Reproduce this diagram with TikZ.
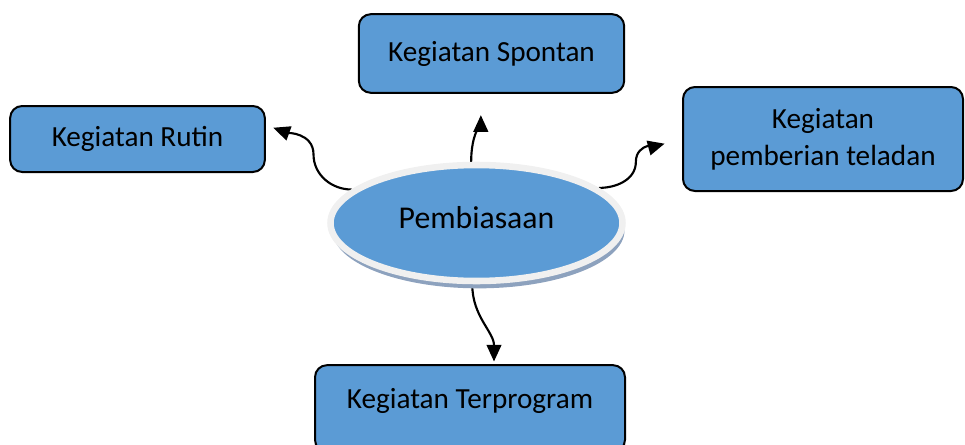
\documentclass[tikz,border=0pt]{standalone}
\usepackage{fontspec}
\setmainfont{Carlito}
\usetikzlibrary{shapes.geometric,shadows,arrows.meta}
\definecolor{boxblue}{RGB}{91,155,213}
\definecolor{ringgrey}{RGB}{240,240,240}
\definecolor{shadowblue}{RGB}{141,162,190}
\pgfdeclarelayer{background}
\pgfsetlayers{background,main}
\tikzset{
  kegiatan/.style={draw=black, line width=1.5pt, fill=boxblue, rounded corners=9pt,
    align=center, font=\fontsize{21.9}{27.5}\selectfont},
  pusat/.style={ellipse, fill=boxblue, draw=ringgrey, line width=4.9pt,
    minimum width=219pt, minimum height=87pt, font=\fontsize{23.8}{28}\selectfont,
    drop shadow={shadow xshift=1.5pt, shadow yshift=-5.5pt, fill=shadowblue, opacity=1}},
  panah/.style={-{Triangle[length=12.5pt,width=11pt]}, line width=1.6pt}
}

\begin{document}
\begin{tikzpicture}[x=0.75pt,y=0.75pt]
    \useasboundingbox (0,0) rectangle (965,444);
    \clip (0,0) rectangle (965,444);
    % centre
    \node[pusat] (pemb) at (476.5,221) {\raisebox{4pt}[\height][\depth]{Pembiasaan}};
    % activities
    \node[kegiatan, minimum width=191pt, minimum height=49.5pt] (rutin) at (137.5,305) {Kegiatan Rutin};
    \node[kegiatan, minimum width=199pt, minimum height=59pt] (spontan) at (491.5,390.5) {Kegiatan Spontan};
    \node[kegiatan, minimum width=210pt, minimum height=78pt] (teladan) at (823,305) {Kegiatan\\pemberian teladan};
    \node[kegiatan, minimum width=232.5pt, minimum height=65pt] (terprogram) at (470,35.5)
        {\raisebox{6pt}[\height][\depth]{Kegiatan Terprogram}};
    % arrows
    \begin{pgfonlayer}{background}
        \draw[panah, shorten >=6pt] (pemb.165) to[out=180,in=-90] ++(-38,35)
            to[out=90,in=-20] ([yshift=10.5pt]rutin.east);
        \draw[panah, shorten >=16pt] (pemb.95) to[out=90,in=-90] ([xshift=-8pt]spontan.south);
        \draw[panah, shorten >=13.5pt] (pemb.16) to[out=0,in=-90] ++(37,26)
            to[out=90,in=195] (teladan.west);
        \draw[panah, shorten >=2pt] (pemb.266) to[out=-90,in=90] ([xshift=18pt]terprogram.north);
    \end{pgfonlayer}
\end{tikzpicture}
\end{document}
